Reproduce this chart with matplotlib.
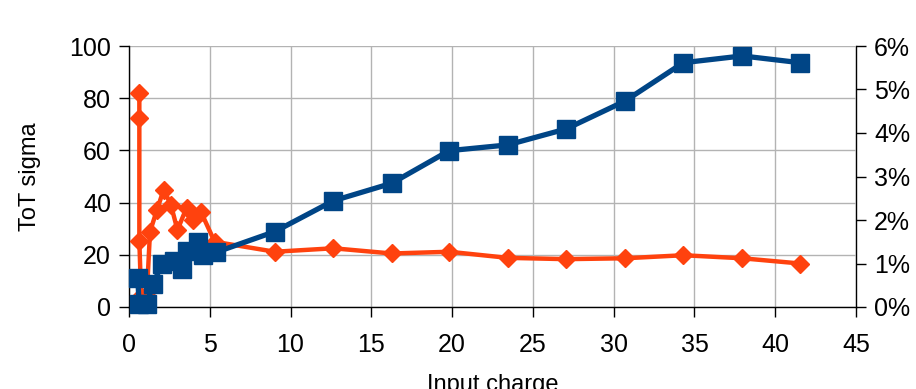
import matplotlib
matplotlib.use("Agg")
import matplotlib.pyplot as plt
from matplotlib.ticker import MultipleLocator, FuncFormatter

plt.rcParams['font.family'] = ['Liberation Sans', 'DejaVu Sans']

# ToT sigma (left axis)
charge_sigma = [0.55, 0.62, 1.1, 1.5, 2.05, 2.8, 3.25, 3.6, 4.3, 4.6, 5.4,
                9.03, 12.65, 16.26, 19.82, 23.44, 27.05, 30.7, 34.31, 37.96, 41.54]
tot_sigma = [11.0, 1.0, 1.2, 9.0, 16.5, 17.5, 14.5, 21.5, 25.0, 20.0, 21.0,
             28.9, 40.7, 47.4, 59.9, 62.1, 68.2, 78.9, 93.6, 96.2, 93.6]

# relative sigma in % (right axis)
charge_rel = [0.64, 0.64, 0.64, 0.75, 1.1, 1.30, 1.72, 2.15, 2.6, 3.0, 3.56, 3.97, 4.45, 5.3,
              9.03, 12.65, 16.26, 19.82, 23.44, 27.05, 30.7, 34.31, 37.96, 41.54]
rel_sigma = [4.92, 4.34, 1.52, 0.25, 0.25, 1.73, 2.22, 2.70, 2.34, 1.77, 2.28, 2.0, 2.19, 1.5,
             1.27, 1.35, 1.23, 1.27, 1.13, 1.10, 1.12, 1.19, 1.12, 1.00]

blue = '#004586'
orange = '#ff420e'
scale = 6 / 100  # percent per left-axis unit

fig = plt.figure(figsize=(9.16, 3.89), dpi=100)
ax = fig.add_axes([129 / 916, 1 - 307 / 389, 727 / 916, 261 / 389])

ax.plot(charge_rel, [v / scale for v in rel_sigma], color=orange, lw=3.2,
        marker='D', ms=9.5, zorder=3, clip_on=False)
ax.plot(charge_sigma, tot_sigma, color=blue, lw=3.8,
        marker='s', ms=13, zorder=4, clip_on=False)

ax.set_xlim(0, 45)
ax.set_ylim(0, 100)
ax.xaxis.set_major_locator(MultipleLocator(5))
ax.yaxis.set_major_locator(MultipleLocator(20))
ax.grid(True, color='#b3b3b3', lw=1)
ax.set_axisbelow(True)

for s in ['top', 'right']:
    ax.spines[s].set_visible(False)
for s in ['left', 'bottom']:
    ax.spines[s].set_linewidth(1)

ax.tick_params(labelsize=18, length=7, width=1)
ax.tick_params(axis='x', pad=12)
ax.tick_params(axis='y', pad=6)
ax.set_ylabel('ToT sigma', fontsize=17, labelpad=20)
ax.set_xlabel('Input charge', fontsize=17, labelpad=12)

sec = ax.secondary_yaxis('right', functions=(lambda v: v * scale, lambda p: p / scale))
sec.yaxis.set_major_locator(MultipleLocator(1))
sec.yaxis.set_major_formatter(FuncFormatter(lambda v, p: f'{v:.0f}%'))
sec.tick_params(labelsize=18, length=7, width=1, pad=6)
sec.spines['right'].set_linewidth(1)

fig.savefig('out.png', dpi=100)
